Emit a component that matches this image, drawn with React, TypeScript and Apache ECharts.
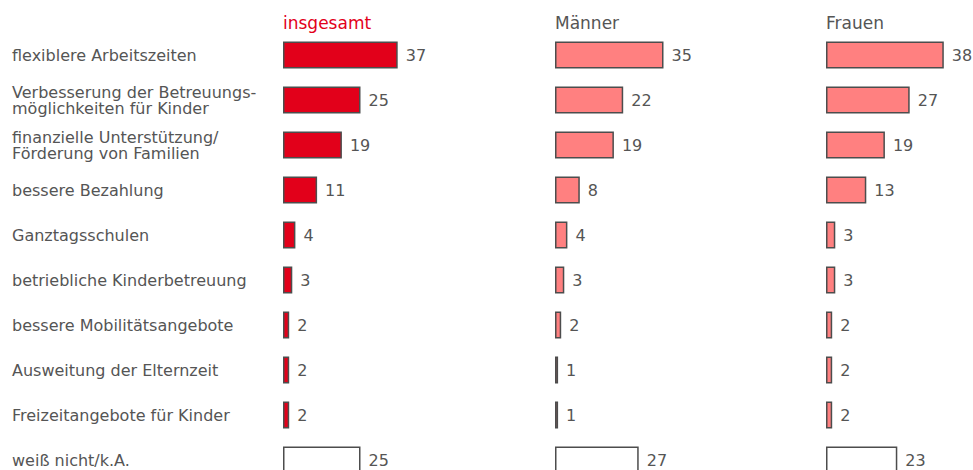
import React, { useEffect, useRef } from "react";
import * as echarts from "echarts";

const categories = [
  "flexiblere Arbeitszeiten",
  "Verbesserung der Betreuungs-\nmöglichkeiten für Kinder",
  "finanzielle Unterstützung/\nFörderung von Familien",
  "bessere Bezahlung",
  "Ganztagsschulen",
  "betriebliche Kinderbetreuung",
  "bessere Mobilitätsangebote",
  "Ausweitung der Elternzeit",
  "Freizeitangebote für Kinder",
  "weiß nicht/k.A.",
];

const groupTitles = ["insgesamt", "Männer", "Frauen"];
const insgesamt = [37, 25, 19, 11, 4, 3, 2, 2, 2, 25];
const maenner = [35, 22, 19, 8, 4, 3, 2, 1, 1, 27];
const frauen = [38, 27, 19, 13, 3, 3, 2, 2, 2, 23];

const FONT = '"DejaVu Sans", Verdana, sans-serif';
const TEXT = "#555555";

export default function App() {
  const ref = useRef<HTMLDivElement>(null);

  useEffect(() => {
    if (!ref.current) return;
    const chart = echarts.init(ref.current, undefined, { renderer: "svg" });
    const lefts = [283, 555, 826];
    const fills = ["#e2001a", "#ff8080", "#ff8080"];
    const seriesData = [insgesamt, maenner, frauen];
    const top = 32.5;
    const height = 45 * categories.length;

    const grids = lefts.map((l) => ({ left: l, top, width: 124, height }));
    const xAxes = lefts.map((_, i) => ({
      type: "value",
      gridIndex: i,
      min: 0,
      max: 40,
      show: false,
    }));
    const yAxes = lefts.map((_, i) => ({
      type: "category",
      gridIndex: i,
      data: categories,
      inverse: true,
      axisLine: { show: false },
      axisTick: { show: false },
      splitLine: { show: false },
      axisLabel: {
        show: i === 0,
        align: "left",
        margin: 271,
        color: TEXT,
        fontSize: 16,
        lineHeight: 16,
        fontFamily: FONT,
      },
    }));
    const series = seriesData.map((vals, i) => ({
      type: "bar",
      xAxisIndex: i,
      yAxisIndex: i,
      barWidth: 27,
      data: vals.map((v, j) => ({
        value: v,
        itemStyle: {
          color: j === vals.length - 1 ? "#ffffff" : fills[i],
        },
      })),
      itemStyle: { borderColor: "#4d4d4d", borderWidth: 1.5 },
      label: {
        show: true,
        position: "right",
        distance: 8,
        color: TEXT,
        fontSize: 16,
        fontFamily: FONT,
      },
    }));
    const graphic = groupTitles.map((t, i) => ({
      type: "text",
      x: lefts[i],
      y: 22.5,
      style: {
        text: t,
        fill: i === 0 ? "#e2001a" : TEXT,
        fontSize: 17,
        fontFamily: FONT,
        verticalAlign: "middle",
        align: "left",
      },
    }));

    chart.setOption({
      animation: false,
      backgroundColor: "#ffffff",
      grid: grids,
      xAxis: xAxes,
      yAxis: yAxes,
      series,
      graphic,
    } as any);
    return () => chart.dispose();
  }, []);

  return (
    <div
      ref={ref}
      style={{ position: "fixed", left: 0, top: 0, width: 973, height: 500 }}
    />
  );
}
